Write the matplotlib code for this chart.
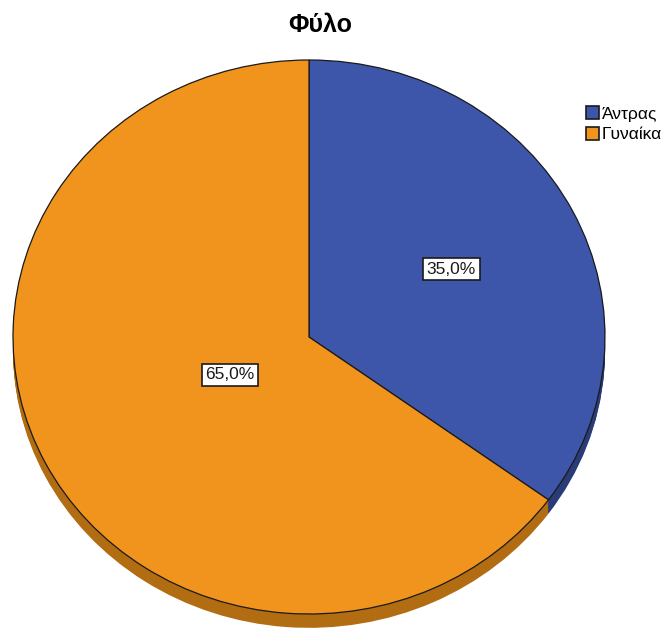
import matplotlib
matplotlib.use("Agg")
import matplotlib.pyplot as plt
from matplotlib.patches import Patch
import numpy as np

plt.rcParams["font.family"] = ["Liberation Sans", "DejaVu Sans"]

# data
categories = ["Άντρας", "Γυναίκα"]
percents = [35.0, 65.0]
title = "Φύλο"

# styling
top_colors = ["#3D56A9", "#F1941D"]
side_colors = ["#2A3C78", "#B26C12"]
label_radius = [0.54, 0.30]  # SPSS places the boxes at different radii

fig = plt.figure(figsize=(6.7, 6.3), dpi=100)
ax = fig.add_axes([0, 0, 1, 1])

# 3D-ish side: darker copies of the pie pushed down a bit
depth = 0.05
for k in np.linspace(depth, 0.005, 10):
    ax.pie(percents, colors=side_colors, startangle=90, counterclock=False,
           center=(0, -k), radius=1, frame=True,
           wedgeprops=dict(linewidth=0))

wedges, _ = ax.pie(percents, colors=top_colors, startangle=90, counterclock=False,
                   radius=1, frame=True,
                   wedgeprops=dict(edgecolor="#1a1a1a", linewidth=0.9))

# labels in white boxes
for w, pct, r in zip(wedges, percents, label_radius):
    mid = np.deg2rad((w.theta1 + w.theta2) / 2)
    txt = f"{pct:.1f}%".replace(".", ",")
    ax.text(r * np.cos(mid), r * np.sin(mid), txt, ha="center", va="center",
            fontsize=12.5, color="#1a1a1a",
            bbox=dict(boxstyle="square,pad=0.2", facecolor="white",
                      edgecolor="#1a1a1a", linewidth=1.2))

# pie is slightly squashed vertically (296 px wide radius, 277 px tall)
ax.set_aspect("auto")
ax.set_xlim(-309 / 296, 361 / 296)
ax.set_ylim(-293 / 277, 337 / 277)
ax.axis("off")

fig.text(0.478, 0.96, title, ha="center", va="center",
         fontsize=18, fontweight="bold")

handles = [Patch(facecolor=c, edgecolor="#1a1a1a", linewidth=1.2) for c in top_colors]
fig.legend(handles, categories, loc="upper left", bbox_to_anchor=(0.874, 0.832),
           frameon=False, fontsize=12.5, handlelength=0.8, handleheight=0.8,
           handletextpad=0.15, labelspacing=0.3, borderpad=0, borderaxespad=0)

fig.savefig("out.png", dpi=100)
